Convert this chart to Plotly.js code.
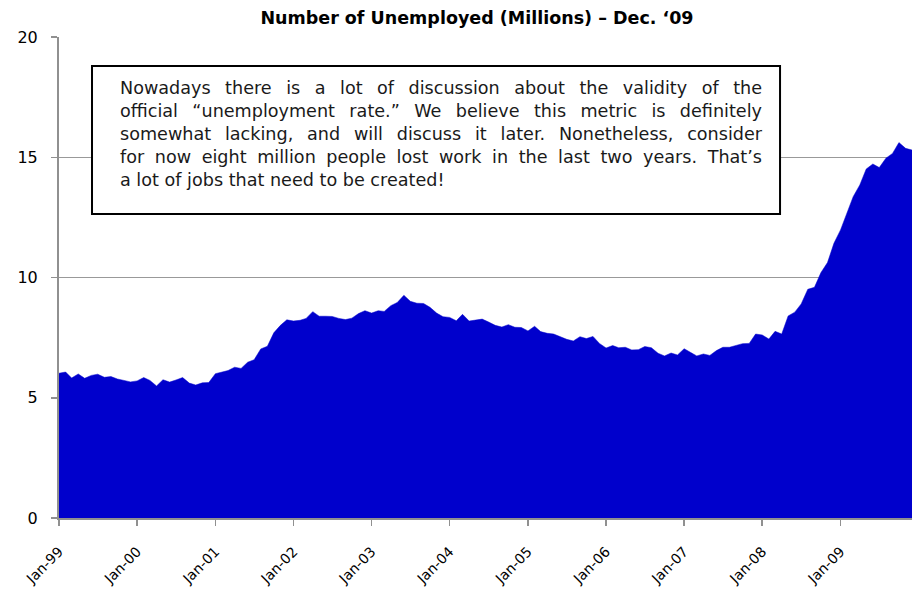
<!DOCTYPE html>
<html>
<head>
<meta charset="utf-8">
<script src="https://cdn.plot.ly/plotly-3.0.1.min.js"></script>
<style>
  html, body { margin: 0; padding: 0; background: #fff; }
  #chart { width: 917px; height: 593px; }
</style>
</head>
<body>
<div id="chart"></div>
<script>
// Unemployed persons, millions, monthly Jan-99 .. Dec-09
const years = [1999, 2000, 2001, 2002, 2003, 2004, 2005, 2006, 2007, 2008, 2009];
const u1999 = [6.02, 6.07, 5.82, 5.99, 5.81, 5.93, 5.98, 5.85, 5.88, 5.78, 5.72, 5.66];
const u2000 = [5.70, 5.84, 5.72, 5.49, 5.75, 5.65, 5.74, 5.84, 5.61, 5.53, 5.62, 5.63];
const u2001 = [6.00, 6.07, 6.13, 6.27, 6.22, 6.48, 6.58, 7.03, 7.14, 7.70, 8.01, 8.24];
const u2002 = [8.19, 8.22, 8.30, 8.58, 8.39, 8.39, 8.38, 8.30, 8.25, 8.31, 8.50, 8.62];
const u2003 = [8.52, 8.62, 8.59, 8.83, 8.96, 9.26, 9.01, 8.93, 8.92, 8.76, 8.52, 8.37];
const u2004 = [8.34, 8.20, 8.47, 8.19, 8.23, 8.27, 8.15, 8.01, 7.94, 8.04, 7.93, 7.92];
const u2005 = [7.78, 7.97, 7.75, 7.68, 7.65, 7.54, 7.43, 7.36, 7.54, 7.46, 7.55, 7.26];
const u2006 = [7.07, 7.17, 7.08, 7.10, 6.99, 7.00, 7.13, 7.08, 6.85, 6.74, 6.86, 6.78];
const u2007 = [7.04, 6.88, 6.74, 6.82, 6.76, 6.96, 7.10, 7.10, 7.17, 7.25, 7.26, 7.65];
const u2008 = [7.61, 7.44, 7.76, 7.65, 8.40, 8.56, 8.90, 9.51, 9.59, 10.20, 10.62, 11.42];
const u2009 = [11.98, 12.70, 13.36, 13.85, 14.51, 14.72, 14.57, 14.96, 15.16, 15.61, 15.37, 15.30];
const yTickVals = [0, 5, 10, 15, 20];

const titleText = "Number of Unemployed (Millions) \u2013 Dec. \u201809";
const noteLines = [
  "Nowadays there is a lot of discussion about the validity of the",
  "official \u201cunemployment rate.\u201d We believe this metric is definitely",
  "somewhat lacking, and will discuss it later. Nonetheless, consider",
  "for now eight million people lost work in the last two years. That\u2019s",
  "a lot of jobs that need to be created!"
];

const series = [u1999, u2000, u2001, u2002, u2003, u2004, u2005, u2006, u2007, u2008, u2009];
const xDates = [], yVals = [];
years.forEach((yr, i) => {
  series[i].forEach((v, m) => {
    xDates.push(yr + "-" + String(m + 1).padStart(2, "0") + "-01");
    yVals.push(v);
  });
});

const FONT = "DejaVu Sans, Verdana, sans-serif";

const trace = {
  x: xDates,
  y: yVals,
  type: "scatter",
  mode: "lines",
  fill: "tozeroy",
  fillcolor: "#0000CC",
  line: { color: "#0000CC", width: 0.5 },
  hoverinfo: "skip"
};

const layout = {
  width: 917,
  height: 593,
  margin: { l: 59, r: 5, t: 37, b: 75 },
  paper_bgcolor: "#ffffff",
  plot_bgcolor: "#ffffff",
  showlegend: false,
  font: { family: FONT, color: "#000000", size: 14 },
  title: {
    text: "<b>" + titleText + "</b>",
    font: { family: FONT, size: 17.5, color: "#000000" },
    x: 0.49, xanchor: "center", xref: "paper",
    y: 0.97, yanchor: "middle", yref: "container"
  },
  xaxis: {
    type: "date",
    range: ["1999-01-01", "2009-12-01"],
    tick0: "1999-01-01",
    dtick: "M12",
    tickformat: "%b-%y",
    tickangle: -45,
    ticks: "outside",
    ticklen: 6,
    tickwidth: 1.5,
    tickcolor: "#909090",
    ticklabelstandoff: 12,
    showline: true,
    linecolor: "#909090",
    linewidth: 2,
    showgrid: false,
    zeroline: false,
    tickfont: { family: FONT, size: 14, color: "#000000" }
  },
  yaxis: {
    range: [0, 20],
    tickvals: yTickVals,
    ticks: "outside",
    ticklen: 6,
    tickwidth: 1.5,
    tickcolor: "#909090",
    ticklabelstandoff: 10,
    showline: true,
    linecolor: "#909090",
    linewidth: 2,
    showgrid: true,
    gridcolor: "#999999",
    gridwidth: 1.5,
    zeroline: false,
    tickfont: { family: FONT, size: 16, color: "#000000" }
  },
  shapes: [{
    type: "rect",
    xref: "paper", yref: "paper",
    x0: 0.0387, x1: 0.8453,
    y0: 0.632, y1: 0.9397,
    line: { color: "#000000", width: 2 },
    fillcolor: "#ffffff",
    layer: "above"
  }],
  annotations: [{
    xref: "paper", yref: "paper",
    x: 0.0692, y: 0.918,
    xanchor: "left", yanchor: "top",
    align: "left",
    showarrow: false,
    text: noteLines.join("<br>"),
    font: { family: FONT, size: 17.6, color: "#1a1a1a" }
  }]
};

Plotly.newPlot("chart", [trace], layout, { staticPlot: true, displayModeBar: false }).then(() => {
  // justify the annotation text like the original text box
  const targetWidth = 642;
  const lines = document.querySelectorAll(".annotation-text tspan.line");
  lines.forEach((ln, i) => {
    if (i === lines.length - 1) return;
    const w = ln.getComputedTextLength();
    const spaces = (ln.textContent.match(/ /g) || []).length;
    if (spaces > 0) {
      ln.style.wordSpacing = ((targetWidth - w) / spaces) + "px";
    }
  });
});
</script>
</body>
</html>
